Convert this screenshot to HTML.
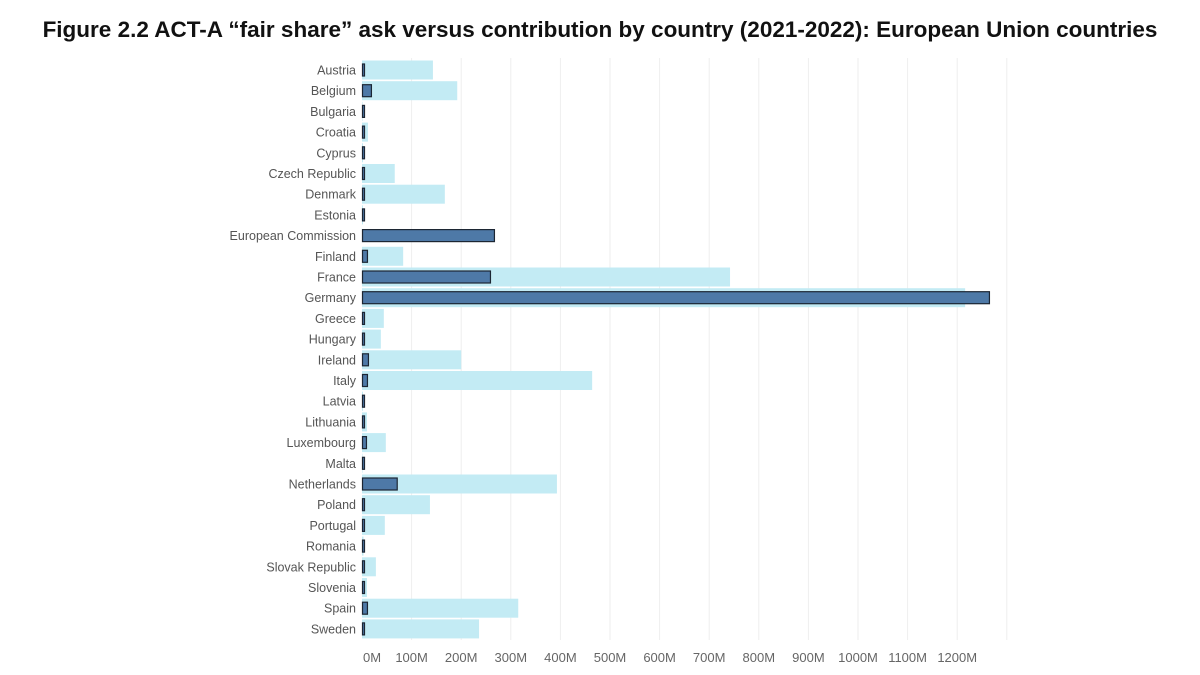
<!DOCTYPE html>
<html><head><meta charset="utf-8"><style>
body{margin:0;background:#fff;font-family:"Liberation Sans",sans-serif;}
#t{position:absolute;top:17px;left:0;width:1200px;text-align:center;font-weight:bold;font-size:22.5px;color:#111;white-space:nowrap}
</style></head><body>
<div id="t">Figure 2.2 ACT-A “fair share” ask versus contribution by country (2021-2022): European Union countries</div>
<svg id="c" width="1200" height="675" style="position:absolute;left:0;top:0"></svg>
<script>
const countries=["Austria","Belgium","Bulgaria","Croatia","Cyprus","Czech Republic","Denmark","Estonia","European Commission","Finland","France","Germany","Greece","Hungary","Ireland","Italy","Latvia","Lithuania","Luxembourg","Malta","Netherlands","Poland","Portugal","Romania","Slovak Republic","Slovenia","Spain","Sweden"];
const askValues=[143,192,1,12,2,66,167,2,0,83,742,1216,44,38,200,464,2,10,48,1,393,137,46,3,28,10,315,236];
const contribValues=[2,18,2,2,2,2,2,2,266,10,258,1264,2,2,12,10,2,2,8,2,70,2,2,2,2,2,10,2];
const tickValues=[0,100,200,300,400,500,600,700,800,900,1000,1100,1200,1300];
const tickLabels=["0M","100M","200M","300M","400M","500M","600M","700M","800M","900M","1000M","1100M","1200M",""];
const NS="http://www.w3.org/2000/svg",svg=document.getElementById('c');
const x=v=>362+v*0.496, y=i=>70+i*20.7;
function mk(t,a){const e=document.createElementNS(NS,t);for(const k in a)e.setAttribute(k,a[k]);svg.appendChild(e);return e;}
tickValues.forEach((v,i)=>{
 if(v>0){const g=mk('line',{x1:x(v),x2:x(v),y1:58,y2:640,stroke:'#eee','stroke-width':1});
 
 }
 if(tickLabels[i]){const t=mk('text',{x:v===0?x(v)+10:x(v),y:662,'text-anchor':'middle','font-size':13,fill:'#666','font-family':'Liberation Sans, sans-serif'});t.textContent=tickLabels[i];
 
 }
});
countries.forEach((c,i)=>{
 const cy=y(i);
 const l=mk('text',{x:356,y:cy+4.5,'text-anchor':'end','font-size':12.5,fill:'#555','font-family':'Liberation Sans, sans-serif'});l.textContent=c;
 
 
 if(askValues[i]>0){const a=mk('rect',{x:x(0),y:cy-9.5,width:Math.max(0,x(askValues[i])-x(0)),height:19,fill:'#c3ebf4'});
 
 }
 const w=Math.max(2,x(contribValues[i])-x(0));
 const b=mk('rect',{x:x(0)+0.5,y:cy-6,width:w,height:12,fill:'#4e79a7',stroke:'#1c2633','stroke-width':1.2});
 
 
});
</script>
</body></html>
